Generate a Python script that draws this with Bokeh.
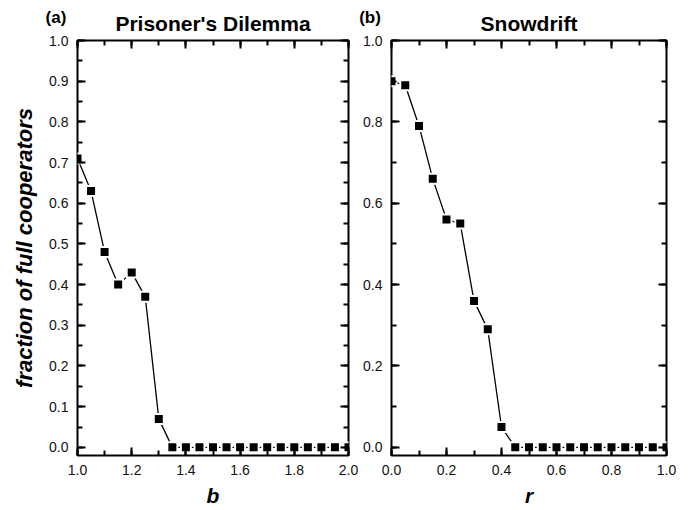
from bokeh.plotting import figure
from bokeh.layouts import row
from bokeh.models import (LinearAxis, SingleIntervalTicker, PrintfTickFormatter,
                          CustomJSTickFormatter, Range1d, ColumnDataSource, Div)
from bokeh.embed import file_html
from bokeh.resources import INLINE

# ---- data ----
b_vals = [1.0, 1.05, 1.1, 1.15, 1.2, 1.25, 1.3, 1.35, 1.4, 1.45, 1.5, 1.55, 1.6,
          1.65, 1.7, 1.75, 1.8, 1.85, 1.9, 1.95, 2.0]
pd_frac = [0.71, 0.63, 0.48, 0.40, 0.43, 0.37, 0.07, 0.0, 0.0, 0.0, 0.0, 0.0, 0.0,
           0.0, 0.0, 0.0, 0.0, 0.0, 0.0, 0.0, 0.0]
r_vals = [0.0, 0.05, 0.1, 0.15, 0.2, 0.25, 0.3, 0.35, 0.4, 0.45, 0.5, 0.55, 0.6,
          0.65, 0.7, 0.75, 0.8, 0.85, 0.9, 0.95, 1.0]
sd_frac = [0.90, 0.89, 0.79, 0.66, 0.56, 0.55, 0.36, 0.29, 0.05, 0.0, 0.0, 0.0, 0.0,
           0.0, 0.0, 0.0, 0.0, 0.0, 0.0, 0.0, 0.0]

FONT = "Liberation Sans"


def style_axis(ax, x_int, show_labels=True):
    ax.ticker = SingleIntervalTicker(interval=x_int, num_minor_ticks=2)
    ax.major_tick_in = 8
    ax.major_tick_out = 0
    ax.minor_tick_in = 5
    ax.minor_tick_out = 0
    ax.major_tick_line_width = 2
    ax.minor_tick_line_width = 2
    ax.axis_line_color = None
    ax.major_label_text_font = FONT
    ax.major_label_text_color = "#111111"
    ax.major_label_text_font_size = "14px"
    if show_labels:
        ax.formatter = PrintfTickFormatter(format="%.1f")
        ax.major_label_standoff = 9
    else:
        ax.formatter = CustomJSTickFormatter(code="return ''")
        ax.major_label_standoff = 0


def make_panel(xs, ys, xr, x_int, y_int, xlabel, title, ylabel,
               frame_w, b_left, b_right):
    p = figure(frame_width=frame_w, frame_height=415, output_backend="svg",
               toolbar_location=None, x_range=Range1d(*xr),
               y_range=Range1d(-0.02, 1.0), x_axis_location=None,
               y_axis_location=None, min_border_left=b_left,
               min_border_right=b_right, min_border_top=40,
               min_border_bottom=54, title=title)
    p.grid.visible = False
    p.outline_line_color = "black"
    p.outline_line_width = 2
    p.background_fill_color = "white"
    p.border_fill_color = "white"
    p.title.align = "center"
    p.title.text_font = FONT
    p.title.text_font_style = "bold"
    p.title.text_font_size = "21px"
    p.title.text_color = "black"
    p.title.standoff = 12

    bx = LinearAxis()
    style_axis(bx, x_int)
    bx.axis_label = xlabel
    bx.axis_label_text_font = FONT
    bx.axis_label_text_font_style = "bold italic"
    bx.axis_label_text_font_size = "21px"
    bx.axis_label_text_color = "black"
    bx.axis_label_standoff = 6
    p.add_layout(bx, "below")

    ly = LinearAxis()
    style_axis(ly, y_int)
    if ylabel:
        ly.axis_label = ylabel
        ly.axis_label_text_font = FONT
        ly.axis_label_text_font_style = "bold italic"
        ly.axis_label_text_font_size = "22px"
        ly.axis_label_text_color = "black"
        ly.axis_label_standoff = 9
    p.add_layout(ly, "left")

    tx = LinearAxis()
    style_axis(tx, x_int, show_labels=False)
    p.add_layout(tx, "above")
    ry = LinearAxis()
    style_axis(ry, y_int, show_labels=False)
    p.add_layout(ry, "right")

    src = ColumnDataSource(dict(x=xs, y=ys))
    p.line("x", "y", source=src, line_color="black", line_width=1.3)
    p.scatter("x", "y", source=src, marker="square", size=10,
              fill_color="black", line_color="white", line_width=2)
    return p


def tag_div(text, left, top):
    return Div(text=text, width=30, height=20,
               styles={"position": "absolute", "left": f"{left}px",
                       "top": f"{top}px", "z-index": "10", "margin": "0",
                       "padding": "0", "font-family": FONT,
                       "font-weight": "bold", "font-size": "17px",
                       "line-height": "20px", "color": "black",
                       "text-align": "center"})


p1 = make_panel(b_vals, pd_frac, (1.0, 2.0), 0.2, 0.1, "b",
                "Prisoner's Dilemma", "fraction of full cooperators",
                271, 77, 10)
p2 = make_panel(r_vals, sd_frac, (0.0, 1.0), 0.2, 0.2, "r",
                "Snowdrift", None, 275, 33, 10)

div_a = tag_div("(a)", 41, 8)
div_b = tag_div("(b)", 355, 8)

layout = row(p1, p2, div_a, div_b)
open("out.html", "w").write(file_html(layout, INLINE))
